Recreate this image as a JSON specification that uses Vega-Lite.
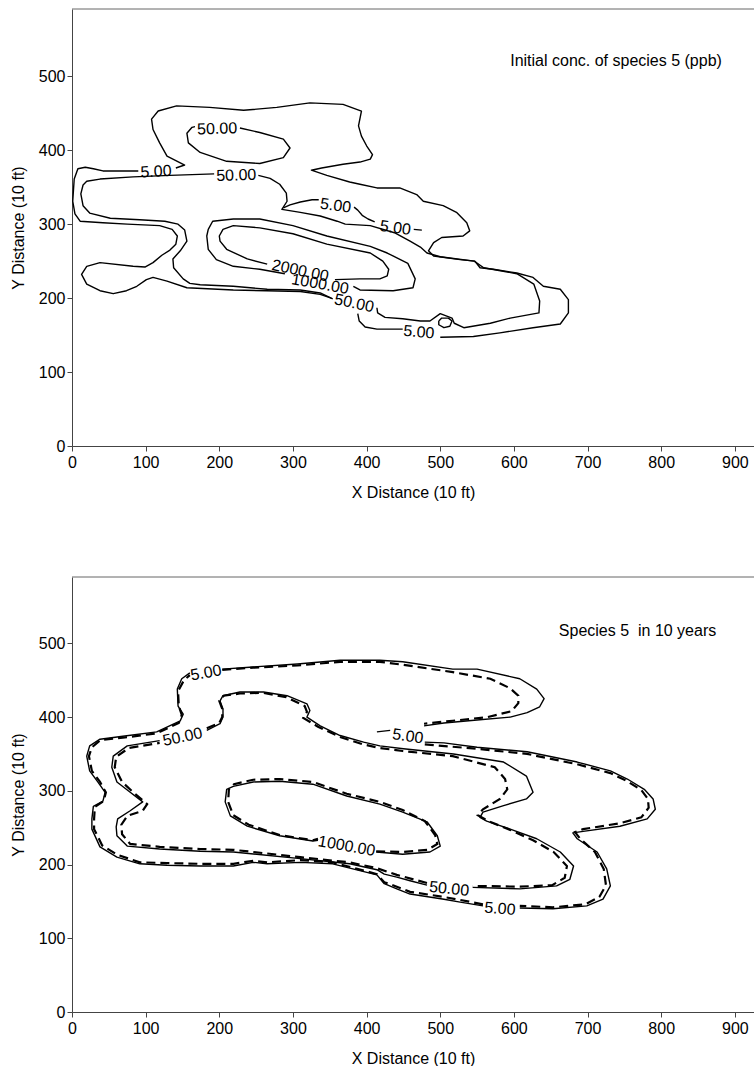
{
"$schema": "https://vega.github.io/schema/vega-lite/v6.json",
"background": "white",
"padding": {"left": 10, "top": 8, "right": 0, "bottom": 0},
"config": {
  "font": "Liberation Sans",
  "view": {"stroke": null},
  "concat": {"spacing": 76},
  "axis": {"labelFont": "Liberation Sans", "titleFont": "Liberation Sans", "labelFontSize": 16, "titleFontSize": 16, "titleFontWeight": "normal", "labelColor": "#000", "titleColor": "#000", "domainColor": "#444", "tickColor": "#444", "tickSize": 5, "grid": false, "labelFlush": false},
  "text": {"font": "Liberation Sans"}
},
"datasets": {
"lines": [
{"p":"t","s":"T5a","d":0,"i":0,"x":141,"y":376},{"p":"t","s":"T5a","d":0,"i":1,"x":153,"y":380},{"p":"t","s":"T5a","d":0,"i":2,"x":129,"y":392},{"p":"t","s":"T5a","d":0,"i":3,"x":119,"y":410},{"p":"t","s":"T5a","d":0,"i":4,"x":110,"y":428},{"p":"t","s":"T5a","d":0,"i":5,"x":108,"y":442},{"p":"t","s":"T5a","d":0,"i":6,"x":117,"y":453},{"p":"t","s":"T5a","d":0,"i":7,"x":142,"y":460},{"p":"t","s":"T5a","d":0,"i":8,"x":187,"y":458},{"p":"t","s":"T5a","d":0,"i":9,"x":233,"y":454},{"p":"t","s":"T5a","d":0,"i":10,"x":278,"y":458},{"p":"t","s":"T5a","d":0,"i":11,"x":323,"y":464},{"p":"t","s":"T5a","d":0,"i":12,"x":368,"y":462},{"p":"t","s":"T5a","d":0,"i":13,"x":393,"y":453},{"p":"t","s":"T5a","d":0,"i":14,"x":389,"y":433},{"p":"t","s":"T5a","d":0,"i":15,"x":393,"y":419},{"p":"t","s":"T5a","d":0,"i":16,"x":400,"y":406},{"p":"t","s":"T5a","d":0,"i":17,"x":408,"y":394},{"p":"t","s":"T5a","d":0,"i":18,"x":405,"y":388},{"p":"t","s":"T5a","d":0,"i":19,"x":391,"y":384},{"p":"t","s":"T5a","d":0,"i":20,"x":368,"y":381},{"p":"t","s":"T5a","d":0,"i":21,"x":339,"y":376},{"p":"t","s":"T5a","d":0,"i":22,"x":325,"y":373},{"p":"t","s":"T5a","d":0,"i":23,"x":346,"y":366},{"p":"t","s":"T5a","d":0,"i":24,"x":377,"y":357},{"p":"t","s":"T5a","d":0,"i":25,"x":391,"y":354},{"p":"t","s":"T5a","d":0,"i":26,"x":414,"y":349},{"p":"t","s":"T5a","d":0,"i":27,"x":445,"y":349},{"p":"t","s":"T5a","d":0,"i":28,"x":468,"y":340},{"p":"t","s":"T5a","d":0,"i":29,"x":477,"y":331},{"p":"t","s":"T5a","d":0,"i":30,"x":504,"y":325},{"p":"t","s":"T5a","d":0,"i":31,"x":522,"y":316},{"p":"t","s":"T5a","d":0,"i":32,"x":536,"y":302},{"p":"t","s":"T5a","d":0,"i":33,"x":540,"y":291},{"p":"t","s":"T5a","d":0,"i":34,"x":531,"y":284},{"p":"t","s":"T5a","d":0,"i":35,"x":502,"y":282},{"p":"t","s":"T5a","d":0,"i":36,"x":491,"y":275},{"p":"t","s":"T5a","d":0,"i":37,"x":484,"y":264},{"p":"t","s":"T5a","d":0,"i":38,"x":491,"y":257},{"p":"t","s":"T5a","d":0,"i":39,"x":527,"y":252},{"p":"t","s":"T5a","d":0,"i":40,"x":547,"y":250},{"p":"t","s":"T5a","d":0,"i":41,"x":554,"y":241},{"p":"t","s":"T5a","d":0,"i":42,"x":572,"y":239},{"p":"t","s":"T5a","d":0,"i":43,"x":604,"y":234},{"p":"t","s":"T5a","d":0,"i":44,"x":626,"y":228},{"p":"t","s":"T5a","d":0,"i":45,"x":640,"y":216},{"p":"t","s":"T5a","d":0,"i":46,"x":663,"y":212},{"p":"t","s":"T5a","d":0,"i":47,"x":674,"y":198},{"p":"t","s":"T5a","d":0,"i":48,"x":674,"y":180},{"p":"t","s":"T5a","d":0,"i":49,"x":663,"y":165},{"p":"t","s":"T5a","d":0,"i":50,"x":626,"y":160},{"p":"t","s":"T5a","d":0,"i":51,"x":581,"y":153},{"p":"t","s":"T5a","d":0,"i":52,"x":545,"y":148},{"p":"t","s":"T5a","d":0,"i":53,"x":500,"y":147},
{"p":"t","s":"T5b","d":0,"i":0,"x":449,"y":158},{"p":"t","s":"T5b","d":0,"i":1,"x":425,"y":158},{"p":"t","s":"T5b","d":0,"i":2,"x":414,"y":158},{"p":"t","s":"T5b","d":0,"i":3,"x":398,"y":161},{"p":"t","s":"T5b","d":0,"i":4,"x":390,"y":169},{"p":"t","s":"T5b","d":0,"i":5,"x":388,"y":179},
{"p":"t","s":"T5c","d":0,"i":0,"x":352,"y":200},{"p":"t","s":"T5c","d":0,"i":1,"x":337,"y":205},{"p":"t","s":"T5c","d":0,"i":2,"x":310,"y":209},{"p":"t","s":"T5c","d":0,"i":3,"x":264,"y":210},{"p":"t","s":"T5c","d":0,"i":4,"x":219,"y":211},{"p":"t","s":"T5c","d":0,"i":5,"x":156,"y":214},{"p":"t","s":"T5c","d":0,"i":6,"x":129,"y":223},{"p":"t","s":"T5c","d":0,"i":7,"x":110,"y":228},{"p":"t","s":"T5c","d":0,"i":8,"x":101,"y":225},{"p":"t","s":"T5c","d":0,"i":9,"x":88,"y":216},{"p":"t","s":"T5c","d":0,"i":10,"x":74,"y":210},{"p":"t","s":"T5c","d":0,"i":11,"x":56,"y":206},{"p":"t","s":"T5c","d":0,"i":12,"x":38,"y":210},{"p":"t","s":"T5c","d":0,"i":13,"x":20,"y":219},{"p":"t","s":"T5c","d":0,"i":14,"x":13,"y":232},{"p":"t","s":"T5c","d":0,"i":15,"x":20,"y":243},{"p":"t","s":"T5c","d":0,"i":16,"x":38,"y":248},{"p":"t","s":"T5c","d":0,"i":17,"x":83,"y":243},{"p":"t","s":"T5c","d":0,"i":18,"x":99,"y":242},{"p":"t","s":"T5c","d":0,"i":19,"x":110,"y":248},{"p":"t","s":"T5c","d":0,"i":20,"x":122,"y":258},{"p":"t","s":"T5c","d":0,"i":21,"x":133,"y":265},{"p":"t","s":"T5c","d":0,"i":22,"x":141,"y":273},{"p":"t","s":"T5c","d":0,"i":23,"x":143,"y":284},{"p":"t","s":"T5c","d":0,"i":24,"x":136,"y":293},{"p":"t","s":"T5c","d":0,"i":25,"x":119,"y":298},{"p":"t","s":"T5c","d":0,"i":26,"x":75,"y":300},{"p":"t","s":"T5c","d":0,"i":27,"x":42,"y":302},{"p":"t","s":"T5c","d":0,"i":28,"x":11,"y":304},{"p":"t","s":"T5c","d":0,"i":29,"x":4,"y":314},{"p":"t","s":"T5c","d":0,"i":30,"x":1,"y":331},{"p":"t","s":"T5c","d":0,"i":31,"x":3,"y":361},{"p":"t","s":"T5c","d":0,"i":32,"x":8,"y":375},{"p":"t","s":"T5c","d":0,"i":33,"x":18,"y":377},{"p":"t","s":"T5c","d":0,"i":34,"x":29,"y":375},{"p":"t","s":"T5c","d":0,"i":35,"x":42,"y":372},{"p":"t","s":"T5c","d":0,"i":36,"x":90,"y":372},
{"p":"t","s":"T50a","d":0,"i":0,"x":253,"y":366},{"p":"t","s":"T50a","d":0,"i":1,"x":269,"y":362},{"p":"t","s":"T50a","d":0,"i":2,"x":282,"y":354},{"p":"t","s":"T50a","d":0,"i":3,"x":291,"y":342},{"p":"t","s":"T50a","d":0,"i":4,"x":292,"y":331},{"p":"t","s":"T50a","d":0,"i":5,"x":285,"y":320},{"p":"t","s":"T50a","d":0,"i":6,"x":310,"y":316},{"p":"t","s":"T50a","d":0,"i":7,"x":337,"y":311},{"p":"t","s":"T50a","d":0,"i":8,"x":360,"y":304},{"p":"t","s":"T50a","d":0,"i":9,"x":371,"y":300},{"p":"t","s":"T50a","d":0,"i":10,"x":405,"y":298},{"p":"t","s":"T50a","d":0,"i":11,"x":439,"y":288},{"p":"t","s":"T50a","d":0,"i":12,"x":459,"y":277},{"p":"t","s":"T50a","d":0,"i":13,"x":473,"y":269},{"p":"t","s":"T50a","d":0,"i":14,"x":482,"y":261},{"p":"t","s":"T50a","d":0,"i":15,"x":500,"y":256},{"p":"t","s":"T50a","d":0,"i":16,"x":546,"y":250},{"p":"t","s":"T50a","d":0,"i":17,"x":559,"y":241},{"p":"t","s":"T50a","d":0,"i":18,"x":604,"y":233},{"p":"t","s":"T50a","d":0,"i":19,"x":627,"y":219},{"p":"t","s":"T50a","d":0,"i":20,"x":635,"y":196},{"p":"t","s":"T50a","d":0,"i":21,"x":634,"y":180},{"p":"t","s":"T50a","d":0,"i":22,"x":595,"y":173},{"p":"t","s":"T50a","d":0,"i":23,"x":568,"y":166},{"p":"t","s":"T50a","d":0,"i":24,"x":532,"y":160},{"p":"t","s":"T50a","d":0,"i":25,"x":519,"y":166},{"p":"t","s":"T50a","d":0,"i":26,"x":516,"y":173},{"p":"t","s":"T50a","d":0,"i":27,"x":500,"y":179},{"p":"t","s":"T50a","d":0,"i":28,"x":486,"y":169},{"p":"t","s":"T50a","d":0,"i":29,"x":473,"y":169},{"p":"t","s":"T50a","d":0,"i":30,"x":449,"y":172},{"p":"t","s":"T50a","d":0,"i":31,"x":425,"y":174},{"p":"t","s":"T50a","d":0,"i":32,"x":415,"y":180},{"p":"t","s":"T50a","d":0,"i":33,"x":414,"y":187},
{"p":"t","s":"T50b","d":0,"i":0,"x":354,"y":199},{"p":"t","s":"T50b","d":0,"i":1,"x":337,"y":207},{"p":"t","s":"T50b","d":0,"i":2,"x":310,"y":211},{"p":"t","s":"T50b","d":0,"i":3,"x":265,"y":212},{"p":"t","s":"T50b","d":0,"i":4,"x":219,"y":216},{"p":"t","s":"T50b","d":0,"i":5,"x":174,"y":218},{"p":"t","s":"T50b","d":0,"i":6,"x":160,"y":220},{"p":"t","s":"T50b","d":0,"i":7,"x":151,"y":226},{"p":"t","s":"T50b","d":0,"i":8,"x":138,"y":241},{"p":"t","s":"T50b","d":0,"i":9,"x":137,"y":253},{"p":"t","s":"T50b","d":0,"i":10,"x":147,"y":264},{"p":"t","s":"T50b","d":0,"i":11,"x":156,"y":277},{"p":"t","s":"T50b","d":0,"i":12,"x":153,"y":292},{"p":"t","s":"T50b","d":0,"i":13,"x":144,"y":300},{"p":"t","s":"T50b","d":0,"i":14,"x":126,"y":304},{"p":"t","s":"T50b","d":0,"i":15,"x":92,"y":306},{"p":"t","s":"T50b","d":0,"i":16,"x":52,"y":308},{"p":"t","s":"T50b","d":0,"i":17,"x":24,"y":315},{"p":"t","s":"T50b","d":0,"i":18,"x":15,"y":325},{"p":"t","s":"T50b","d":0,"i":19,"x":12,"y":341},{"p":"t","s":"T50b","d":0,"i":20,"x":15,"y":353},{"p":"t","s":"T50b","d":0,"i":21,"x":20,"y":358},{"p":"t","s":"T50b","d":0,"i":22,"x":38,"y":361},{"p":"t","s":"T50b","d":0,"i":23,"x":83,"y":364},{"p":"t","s":"T50b","d":0,"i":24,"x":133,"y":366},{"p":"t","s":"T50b","d":0,"i":25,"x":193,"y":368},
{"p":"t","s":"TU","d":0,"i":0,"x":228,"y":430},{"p":"t","s":"TU","d":0,"i":1,"x":255,"y":424},{"p":"t","s":"TU","d":0,"i":2,"x":287,"y":415},{"p":"t","s":"TU","d":0,"i":3,"x":296,"y":403},{"p":"t","s":"TU","d":0,"i":4,"x":287,"y":390},{"p":"t","s":"TU","d":0,"i":5,"x":255,"y":382},{"p":"t","s":"TU","d":0,"i":6,"x":210,"y":385},{"p":"t","s":"TU","d":0,"i":7,"x":174,"y":397},{"p":"t","s":"TU","d":0,"i":8,"x":158,"y":410},{"p":"t","s":"TU","d":0,"i":9,"x":156,"y":423},{"p":"t","s":"TU","d":0,"i":10,"x":163,"y":431},{"p":"t","s":"TU","d":0,"i":11,"x":167,"y":432},
{"p":"t","s":"TS1","d":0,"i":0,"x":287,"y":322},{"p":"t","s":"TS1","d":0,"i":1,"x":296,"y":326},{"p":"t","s":"TS1","d":0,"i":2,"x":310,"y":330},{"p":"t","s":"TS1","d":0,"i":3,"x":326,"y":333},{"p":"t","s":"TS1","d":0,"i":4,"x":335,"y":333},
{"p":"t","s":"TS2","d":0,"i":0,"x":383,"y":323},{"p":"t","s":"TS2","d":0,"i":1,"x":388,"y":319},{"p":"t","s":"TS2","d":0,"i":2,"x":394,"y":312},{"p":"t","s":"TS2","d":0,"i":3,"x":402,"y":307},{"p":"t","s":"TS2","d":0,"i":4,"x":411,"y":303},
{"p":"t","s":"TS3","d":0,"i":0,"x":464,"y":293},{"p":"t","s":"TS3","d":0,"i":1,"x":475,"y":292},
{"p":"t","s":"TO","d":0,"i":0,"x":498,"y":169},{"p":"t","s":"TO","d":0,"i":1,"x":502,"y":173},{"p":"t","s":"TO","d":0,"i":2,"x":511,"y":173},{"p":"t","s":"TO","d":0,"i":3,"x":516,"y":169},{"p":"t","s":"TO","d":0,"i":4,"x":513,"y":162},{"p":"t","s":"TO","d":0,"i":5,"x":505,"y":160},{"p":"t","s":"TO","d":0,"i":6,"x":498,"y":164},{"p":"t","s":"TO","d":0,"i":7,"x":498,"y":169},
{"p":"t","s":"T1k","d":0,"i":0,"x":382,"y":216},{"p":"t","s":"T1k","d":0,"i":1,"x":391,"y":211},{"p":"t","s":"T1k","d":0,"i":2,"x":436,"y":210},{"p":"t","s":"T1k","d":0,"i":3,"x":463,"y":214},{"p":"t","s":"T1k","d":0,"i":4,"x":466,"y":226},{"p":"t","s":"T1k","d":0,"i":5,"x":456,"y":247},{"p":"t","s":"T1k","d":0,"i":6,"x":428,"y":261},{"p":"t","s":"T1k","d":0,"i":7,"x":405,"y":270},{"p":"t","s":"T1k","d":0,"i":8,"x":346,"y":284},{"p":"t","s":"T1k","d":0,"i":9,"x":300,"y":298},{"p":"t","s":"T1k","d":0,"i":10,"x":255,"y":307},{"p":"t","s":"T1k","d":0,"i":11,"x":219,"y":307},{"p":"t","s":"T1k","d":0,"i":12,"x":191,"y":304},{"p":"t","s":"T1k","d":0,"i":13,"x":185,"y":293},{"p":"t","s":"T1k","d":0,"i":14,"x":183,"y":284},{"p":"t","s":"T1k","d":0,"i":15,"x":185,"y":266},{"p":"t","s":"T1k","d":0,"i":16,"x":196,"y":252},{"p":"t","s":"T1k","d":0,"i":17,"x":219,"y":243},{"p":"t","s":"T1k","d":0,"i":18,"x":255,"y":239},{"p":"t","s":"T1k","d":0,"i":19,"x":289,"y":233},
{"p":"t","s":"T2k","d":0,"i":0,"x":357,"y":225},{"p":"t","s":"T2k","d":0,"i":1,"x":391,"y":226},{"p":"t","s":"T2k","d":0,"i":2,"x":418,"y":226},{"p":"t","s":"T2k","d":0,"i":3,"x":428,"y":230},{"p":"t","s":"T2k","d":0,"i":4,"x":430,"y":239},{"p":"t","s":"T2k","d":0,"i":5,"x":422,"y":250},{"p":"t","s":"T2k","d":0,"i":6,"x":405,"y":261},{"p":"t","s":"T2k","d":0,"i":7,"x":346,"y":273},{"p":"t","s":"T2k","d":0,"i":8,"x":300,"y":287},{"p":"t","s":"T2k","d":0,"i":9,"x":255,"y":295},{"p":"t","s":"T2k","d":0,"i":10,"x":219,"y":298},{"p":"t","s":"T2k","d":0,"i":11,"x":205,"y":293},{"p":"t","s":"T2k","d":0,"i":12,"x":200,"y":284},{"p":"t","s":"T2k","d":0,"i":13,"x":201,"y":277},{"p":"t","s":"T2k","d":0,"i":14,"x":210,"y":266},{"p":"t","s":"T2k","d":0,"i":15,"x":238,"y":253},{"p":"t","s":"T2k","d":0,"i":16,"x":265,"y":246},
{"p":"b","s":"B5a","d":0,"i":0,"x":204,"y":465},{"p":"b","s":"B5a","d":0,"i":1,"x":246,"y":468},{"p":"b","s":"B5a","d":0,"i":2,"x":306,"y":472},{"p":"b","s":"B5a","d":0,"i":3,"x":364,"y":477},{"p":"b","s":"B5a","d":0,"i":4,"x":418,"y":477},{"p":"b","s":"B5a","d":0,"i":5,"x":449,"y":475},{"p":"b","s":"B5a","d":0,"i":6,"x":517,"y":465},{"p":"b","s":"B5a","d":0,"i":7,"x":550,"y":465},{"p":"b","s":"B5a","d":0,"i":8,"x":608,"y":452},{"p":"b","s":"B5a","d":0,"i":9,"x":631,"y":438},{"p":"b","s":"B5a","d":0,"i":10,"x":641,"y":425},{"p":"b","s":"B5a","d":0,"i":11,"x":635,"y":414},{"p":"b","s":"B5a","d":0,"i":12,"x":618,"y":406},{"p":"b","s":"B5a","d":0,"i":13,"x":595,"y":400},{"p":"b","s":"B5a","d":0,"i":14,"x":550,"y":396},{"p":"b","s":"B5a","d":0,"i":15,"x":505,"y":392},{"p":"b","s":"B5a","d":0,"i":16,"x":478,"y":388},
{"p":"b","s":"B5b","d":0,"i":0,"x":432,"y":382},{"p":"b","s":"B5b","d":0,"i":1,"x":414,"y":380},
{"p":"b","s":"B5c","d":0,"i":0,"x":479,"y":366},{"p":"b","s":"B5c","d":0,"i":1,"x":505,"y":365},{"p":"b","s":"B5c","d":0,"i":2,"x":550,"y":359},{"p":"b","s":"B5c","d":0,"i":3,"x":618,"y":353},{"p":"b","s":"B5c","d":0,"i":4,"x":686,"y":339},{"p":"b","s":"B5c","d":0,"i":5,"x":731,"y":327},{"p":"b","s":"B5c","d":0,"i":6,"x":754,"y":316},{"p":"b","s":"B5c","d":0,"i":7,"x":777,"y":302},{"p":"b","s":"B5c","d":0,"i":8,"x":789,"y":289},{"p":"b","s":"B5c","d":0,"i":9,"x":792,"y":275},{"p":"b","s":"B5c","d":0,"i":10,"x":781,"y":262},{"p":"b","s":"B5c","d":0,"i":11,"x":744,"y":252},{"p":"b","s":"B5c","d":0,"i":12,"x":694,"y":245},{"p":"b","s":"B5c","d":0,"i":13,"x":680,"y":243},{"p":"b","s":"B5c","d":0,"i":14,"x":686,"y":235},{"p":"b","s":"B5c","d":0,"i":15,"x":713,"y":217},{"p":"b","s":"B5c","d":0,"i":16,"x":726,"y":194},{"p":"b","s":"B5c","d":0,"i":17,"x":731,"y":171},{"p":"b","s":"B5c","d":0,"i":18,"x":721,"y":153},{"p":"b","s":"B5c","d":0,"i":19,"x":699,"y":144},{"p":"b","s":"B5c","d":0,"i":20,"x":653,"y":140},{"p":"b","s":"B5c","d":0,"i":21,"x":608,"y":141},
{"p":"b","s":"B5d","d":0,"i":0,"x":558,"y":144},{"p":"b","s":"B5d","d":0,"i":1,"x":527,"y":149},{"p":"b","s":"B5d","d":0,"i":2,"x":505,"y":153},{"p":"b","s":"B5d","d":0,"i":3,"x":459,"y":160},{"p":"b","s":"B5d","d":0,"i":4,"x":441,"y":167},{"p":"b","s":"B5d","d":0,"i":5,"x":424,"y":174},{"p":"b","s":"B5d","d":0,"i":6,"x":414,"y":186},{"p":"b","s":"B5d","d":0,"i":7,"x":354,"y":201},{"p":"b","s":"B5d","d":0,"i":8,"x":310,"y":203},{"p":"b","s":"B5d","d":0,"i":9,"x":265,"y":201},{"p":"b","s":"B5d","d":0,"i":10,"x":246,"y":203},{"p":"b","s":"B5d","d":0,"i":11,"x":219,"y":198},{"p":"b","s":"B5d","d":0,"i":12,"x":174,"y":198},{"p":"b","s":"B5d","d":0,"i":13,"x":129,"y":199},{"p":"b","s":"B5d","d":0,"i":14,"x":92,"y":201},{"p":"b","s":"B5d","d":0,"i":15,"x":61,"y":210},{"p":"b","s":"B5d","d":0,"i":16,"x":38,"y":224},{"p":"b","s":"B5d","d":0,"i":17,"x":27,"y":248},{"p":"b","s":"B5d","d":0,"i":18,"x":27,"y":262},{"p":"b","s":"B5d","d":0,"i":19,"x":29,"y":279},{"p":"b","s":"B5d","d":0,"i":20,"x":42,"y":286},{"p":"b","s":"B5d","d":0,"i":21,"x":45,"y":298},{"p":"b","s":"B5d","d":0,"i":22,"x":35,"y":312},{"p":"b","s":"B5d","d":0,"i":23,"x":24,"y":327},{"p":"b","s":"B5d","d":0,"i":24,"x":20,"y":347},{"p":"b","s":"B5d","d":0,"i":25,"x":24,"y":361},{"p":"b","s":"B5d","d":0,"i":26,"x":38,"y":370},{"p":"b","s":"B5d","d":0,"i":27,"x":69,"y":374},{"p":"b","s":"B5d","d":0,"i":28,"x":115,"y":380},{"p":"b","s":"B5d","d":0,"i":29,"x":147,"y":395},{"p":"b","s":"B5d","d":0,"i":30,"x":151,"y":404},{"p":"b","s":"B5d","d":0,"i":31,"x":144,"y":415},{"p":"b","s":"B5d","d":0,"i":32,"x":143,"y":438},{"p":"b","s":"B5d","d":0,"i":33,"x":149,"y":452},{"p":"b","s":"B5d","d":0,"i":34,"x":160,"y":460},
{"p":"b","s":"B50a","d":0,"i":0,"x":183,"y":382},{"p":"b","s":"B50a","d":0,"i":1,"x":201,"y":391},{"p":"b","s":"B50a","d":0,"i":2,"x":205,"y":400},{"p":"b","s":"B50a","d":0,"i":3,"x":205,"y":411},{"p":"b","s":"B50a","d":0,"i":4,"x":201,"y":422},{"p":"b","s":"B50a","d":0,"i":5,"x":205,"y":429},{"p":"b","s":"B50a","d":0,"i":6,"x":228,"y":434},{"p":"b","s":"B50a","d":0,"i":7,"x":260,"y":434},{"p":"b","s":"B50a","d":0,"i":8,"x":292,"y":429},{"p":"b","s":"B50a","d":0,"i":9,"x":319,"y":418},{"p":"b","s":"B50a","d":0,"i":10,"x":323,"y":409},{"p":"b","s":"B50a","d":0,"i":11,"x":319,"y":400},{"p":"b","s":"B50a","d":0,"i":12,"x":337,"y":388},{"p":"b","s":"B50a","d":0,"i":13,"x":364,"y":375},{"p":"b","s":"B50a","d":0,"i":14,"x":396,"y":366},{"p":"b","s":"B50a","d":0,"i":15,"x":418,"y":361},{"p":"b","s":"B50a","d":0,"i":16,"x":450,"y":357},{"p":"b","s":"B50a","d":0,"i":17,"x":518,"y":350},{"p":"b","s":"B50a","d":0,"i":18,"x":586,"y":339},{"p":"b","s":"B50a","d":0,"i":19,"x":617,"y":320},{"p":"b","s":"B50a","d":0,"i":20,"x":626,"y":298},{"p":"b","s":"B50a","d":0,"i":21,"x":617,"y":289},{"p":"b","s":"B50a","d":0,"i":22,"x":586,"y":280},{"p":"b","s":"B50a","d":0,"i":23,"x":558,"y":271},{"p":"b","s":"B50a","d":0,"i":24,"x":554,"y":264},{"p":"b","s":"B50a","d":0,"i":25,"x":563,"y":259},{"p":"b","s":"B50a","d":0,"i":26,"x":595,"y":248},{"p":"b","s":"B50a","d":0,"i":27,"x":631,"y":235},{"p":"b","s":"B50a","d":0,"i":28,"x":663,"y":217},{"p":"b","s":"B50a","d":0,"i":29,"x":681,"y":198},{"p":"b","s":"B50a","d":0,"i":30,"x":676,"y":180},{"p":"b","s":"B50a","d":0,"i":31,"x":658,"y":171},{"p":"b","s":"B50a","d":0,"i":32,"x":608,"y":167},{"p":"b","s":"B50a","d":0,"i":33,"x":544,"y":169},
{"p":"b","s":"B50b","d":0,"i":0,"x":482,"y":172},{"p":"b","s":"B50b","d":0,"i":1,"x":459,"y":178},{"p":"b","s":"B50b","d":0,"i":2,"x":441,"y":183},{"p":"b","s":"B50b","d":0,"i":3,"x":424,"y":187},{"p":"b","s":"B50b","d":0,"i":4,"x":414,"y":193},{"p":"b","s":"B50b","d":0,"i":5,"x":377,"y":201},{"p":"b","s":"B50b","d":0,"i":6,"x":310,"y":208},{"p":"b","s":"B50b","d":0,"i":7,"x":219,"y":217},{"p":"b","s":"B50b","d":0,"i":8,"x":174,"y":218},{"p":"b","s":"B50b","d":0,"i":9,"x":119,"y":221},{"p":"b","s":"B50b","d":0,"i":10,"x":75,"y":225},{"p":"b","s":"B50b","d":0,"i":11,"x":61,"y":239},{"p":"b","s":"B50b","d":0,"i":12,"x":60,"y":251},{"p":"b","s":"B50b","d":0,"i":13,"x":62,"y":262},{"p":"b","s":"B50b","d":0,"i":14,"x":79,"y":273},{"p":"b","s":"B50b","d":0,"i":15,"x":96,"y":285},{"p":"b","s":"B50b","d":0,"i":16,"x":79,"y":298},{"p":"b","s":"B50b","d":0,"i":17,"x":61,"y":312},{"p":"b","s":"B50b","d":0,"i":18,"x":54,"y":332},{"p":"b","s":"B50b","d":0,"i":19,"x":56,"y":347},{"p":"b","s":"B50b","d":0,"i":20,"x":75,"y":361},{"p":"b","s":"B50b","d":0,"i":21,"x":119,"y":368},
{"p":"b","s":"B1k","d":0,"i":0,"x":413,"y":217},{"p":"b","s":"B1k","d":0,"i":1,"x":449,"y":214},{"p":"b","s":"B1k","d":0,"i":2,"x":486,"y":217},{"p":"b","s":"B1k","d":0,"i":3,"x":500,"y":225},{"p":"b","s":"B1k","d":0,"i":4,"x":496,"y":239},{"p":"b","s":"B1k","d":0,"i":5,"x":482,"y":258},{"p":"b","s":"B1k","d":0,"i":6,"x":449,"y":271},{"p":"b","s":"B1k","d":0,"i":7,"x":418,"y":282},{"p":"b","s":"B1k","d":0,"i":8,"x":373,"y":293},{"p":"b","s":"B1k","d":0,"i":9,"x":327,"y":309},{"p":"b","s":"B1k","d":0,"i":10,"x":282,"y":313},{"p":"b","s":"B1k","d":0,"i":11,"x":246,"y":312},{"p":"b","s":"B1k","d":0,"i":12,"x":219,"y":306},{"p":"b","s":"B1k","d":0,"i":13,"x":210,"y":302},{"p":"b","s":"B1k","d":0,"i":14,"x":208,"y":285},{"p":"b","s":"B1k","d":0,"i":15,"x":215,"y":266},{"p":"b","s":"B1k","d":0,"i":16,"x":238,"y":252},{"p":"b","s":"B1k","d":0,"i":17,"x":282,"y":239},{"p":"b","s":"B1k","d":0,"i":18,"x":327,"y":232},{"p":"b","s":"B1k","d":0,"i":19,"x":334,"y":233},
{"p":"b","s":"D5a","d":1,"i":0,"x":204,"y":464},{"p":"b","s":"D5a","d":1,"i":1,"x":246,"y":467},{"p":"b","s":"D5a","d":1,"i":2,"x":306,"y":470},{"p":"b","s":"D5a","d":1,"i":3,"x":364,"y":475},{"p":"b","s":"D5a","d":1,"i":4,"x":418,"y":475},{"p":"b","s":"D5a","d":1,"i":5,"x":449,"y":471},{"p":"b","s":"D5a","d":1,"i":6,"x":517,"y":461},{"p":"b","s":"D5a","d":1,"i":7,"x":568,"y":452},{"p":"b","s":"D5a","d":1,"i":8,"x":595,"y":439},{"p":"b","s":"D5a","d":1,"i":9,"x":606,"y":429},{"p":"b","s":"D5a","d":1,"i":10,"x":606,"y":419},{"p":"b","s":"D5a","d":1,"i":11,"x":597,"y":408},{"p":"b","s":"D5a","d":1,"i":12,"x":564,"y":400},{"p":"b","s":"D5a","d":1,"i":13,"x":517,"y":395},{"p":"b","s":"D5a","d":1,"i":14,"x":478,"y":391},
{"p":"b","s":"D5c","d":1,"i":0,"x":479,"y":363},{"p":"b","s":"D5c","d":1,"i":1,"x":550,"y":357},{"p":"b","s":"D5c","d":1,"i":2,"x":618,"y":350},{"p":"b","s":"D5c","d":1,"i":3,"x":686,"y":336},{"p":"b","s":"D5c","d":1,"i":4,"x":731,"y":324},{"p":"b","s":"D5c","d":1,"i":5,"x":754,"y":313},{"p":"b","s":"D5c","d":1,"i":6,"x":773,"y":301},{"p":"b","s":"D5c","d":1,"i":7,"x":782,"y":289},{"p":"b","s":"D5c","d":1,"i":8,"x":783,"y":277},{"p":"b","s":"D5c","d":1,"i":9,"x":773,"y":264},{"p":"b","s":"D5c","d":1,"i":10,"x":744,"y":256},{"p":"b","s":"D5c","d":1,"i":11,"x":694,"y":248},{"p":"b","s":"D5c","d":1,"i":12,"x":683,"y":244},{"p":"b","s":"D5c","d":1,"i":13,"x":690,"y":235},{"p":"b","s":"D5c","d":1,"i":14,"x":710,"y":217},{"p":"b","s":"D5c","d":1,"i":15,"x":722,"y":194},{"p":"b","s":"D5c","d":1,"i":16,"x":725,"y":172},{"p":"b","s":"D5c","d":1,"i":17,"x":716,"y":156},{"p":"b","s":"D5c","d":1,"i":18,"x":697,"y":146},{"p":"b","s":"D5c","d":1,"i":19,"x":653,"y":142},{"p":"b","s":"D5c","d":1,"i":20,"x":608,"y":144},
{"p":"b","s":"D5d","d":1,"i":0,"x":558,"y":146},{"p":"b","s":"D5d","d":1,"i":1,"x":527,"y":152},{"p":"b","s":"D5d","d":1,"i":2,"x":505,"y":156},{"p":"b","s":"D5d","d":1,"i":3,"x":459,"y":163},{"p":"b","s":"D5d","d":1,"i":4,"x":441,"y":170},{"p":"b","s":"D5d","d":1,"i":5,"x":424,"y":176},{"p":"b","s":"D5d","d":1,"i":6,"x":414,"y":187},{"p":"b","s":"D5d","d":1,"i":7,"x":354,"y":203},{"p":"b","s":"D5d","d":1,"i":8,"x":310,"y":206},{"p":"b","s":"D5d","d":1,"i":9,"x":265,"y":203},{"p":"b","s":"D5d","d":1,"i":10,"x":246,"y":205},{"p":"b","s":"D5d","d":1,"i":11,"x":219,"y":201},{"p":"b","s":"D5d","d":1,"i":12,"x":174,"y":201},{"p":"b","s":"D5d","d":1,"i":13,"x":129,"y":202},{"p":"b","s":"D5d","d":1,"i":14,"x":92,"y":203},{"p":"b","s":"D5d","d":1,"i":15,"x":62,"y":213},{"p":"b","s":"D5d","d":1,"i":16,"x":41,"y":226},{"p":"b","s":"D5d","d":1,"i":17,"x":30,"y":248},{"p":"b","s":"D5d","d":1,"i":18,"x":30,"y":262},{"p":"b","s":"D5d","d":1,"i":19,"x":31,"y":278},{"p":"b","s":"D5d","d":1,"i":20,"x":43,"y":286},{"p":"b","s":"D5d","d":1,"i":21,"x":46,"y":298},{"p":"b","s":"D5d","d":1,"i":22,"x":38,"y":312},{"p":"b","s":"D5d","d":1,"i":23,"x":27,"y":327},{"p":"b","s":"D5d","d":1,"i":24,"x":23,"y":347},{"p":"b","s":"D5d","d":1,"i":25,"x":27,"y":359},{"p":"b","s":"D5d","d":1,"i":26,"x":39,"y":369},{"p":"b","s":"D5d","d":1,"i":27,"x":69,"y":372},{"p":"b","s":"D5d","d":1,"i":28,"x":115,"y":378},{"p":"b","s":"D5d","d":1,"i":29,"x":145,"y":392},{"p":"b","s":"D5d","d":1,"i":30,"x":149,"y":403},{"p":"b","s":"D5d","d":1,"i":31,"x":145,"y":415},{"p":"b","s":"D5d","d":1,"i":32,"x":144,"y":435},{"p":"b","s":"D5d","d":1,"i":33,"x":152,"y":450},{"p":"b","s":"D5d","d":1,"i":34,"x":160,"y":457},
{"p":"b","s":"D50a","d":1,"i":0,"x":183,"y":385},{"p":"b","s":"D50a","d":1,"i":1,"x":200,"y":392},{"p":"b","s":"D50a","d":1,"i":2,"x":204,"y":400},{"p":"b","s":"D50a","d":1,"i":3,"x":204,"y":411},{"p":"b","s":"D50a","d":1,"i":4,"x":200,"y":422},{"p":"b","s":"D50a","d":1,"i":5,"x":206,"y":429},{"p":"b","s":"D50a","d":1,"i":6,"x":228,"y":432},{"p":"b","s":"D50a","d":1,"i":7,"x":259,"y":433},{"p":"b","s":"D50a","d":1,"i":8,"x":291,"y":427},{"p":"b","s":"D50a","d":1,"i":9,"x":316,"y":415},{"p":"b","s":"D50a","d":1,"i":10,"x":319,"y":407},{"p":"b","s":"D50a","d":1,"i":11,"x":314,"y":399},{"p":"b","s":"D50a","d":1,"i":12,"x":334,"y":387},{"p":"b","s":"D50a","d":1,"i":13,"x":364,"y":373},{"p":"b","s":"D50a","d":1,"i":14,"x":395,"y":363},{"p":"b","s":"D50a","d":1,"i":15,"x":418,"y":358},{"p":"b","s":"D50a","d":1,"i":16,"x":449,"y":354},{"p":"b","s":"D50a","d":1,"i":17,"x":517,"y":347},{"p":"b","s":"D50a","d":1,"i":18,"x":574,"y":332},{"p":"b","s":"D50a","d":1,"i":19,"x":588,"y":316},{"p":"b","s":"D50a","d":1,"i":20,"x":591,"y":302},{"p":"b","s":"D50a","d":1,"i":21,"x":581,"y":289},{"p":"b","s":"D50a","d":1,"i":22,"x":558,"y":275},{"p":"b","s":"D50a","d":1,"i":23,"x":551,"y":267},{"p":"b","s":"D50a","d":1,"i":24,"x":565,"y":259},{"p":"b","s":"D50a","d":1,"i":25,"x":595,"y":247},{"p":"b","s":"D50a","d":1,"i":26,"x":626,"y":233},{"p":"b","s":"D50a","d":1,"i":27,"x":654,"y":217},{"p":"b","s":"D50a","d":1,"i":28,"x":672,"y":198},{"p":"b","s":"D50a","d":1,"i":29,"x":669,"y":182},{"p":"b","s":"D50a","d":1,"i":30,"x":652,"y":172},{"p":"b","s":"D50a","d":1,"i":31,"x":608,"y":170},{"p":"b","s":"D50a","d":1,"i":32,"x":544,"y":171},
{"p":"b","s":"D50b","d":1,"i":0,"x":482,"y":175},{"p":"b","s":"D50b","d":1,"i":1,"x":441,"y":186},{"p":"b","s":"D50b","d":1,"i":2,"x":414,"y":195},{"p":"b","s":"D50b","d":1,"i":3,"x":377,"y":203},{"p":"b","s":"D50b","d":1,"i":4,"x":310,"y":210},{"p":"b","s":"D50b","d":1,"i":5,"x":219,"y":220},{"p":"b","s":"D50b","d":1,"i":6,"x":174,"y":221},{"p":"b","s":"D50b","d":1,"i":7,"x":119,"y":224},{"p":"b","s":"D50b","d":1,"i":8,"x":79,"y":228},{"p":"b","s":"D50b","d":1,"i":9,"x":68,"y":241},{"p":"b","s":"D50b","d":1,"i":10,"x":67,"y":254},{"p":"b","s":"D50b","d":1,"i":11,"x":75,"y":266},{"p":"b","s":"D50b","d":1,"i":12,"x":96,"y":273},{"p":"b","s":"D50b","d":1,"i":13,"x":102,"y":282},{"p":"b","s":"D50b","d":1,"i":14,"x":83,"y":298},{"p":"b","s":"D50b","d":1,"i":15,"x":68,"y":312},{"p":"b","s":"D50b","d":1,"i":16,"x":58,"y":332},{"p":"b","s":"D50b","d":1,"i":17,"x":60,"y":346},{"p":"b","s":"D50b","d":1,"i":18,"x":77,"y":358},{"p":"b","s":"D50b","d":1,"i":19,"x":119,"y":365},
{"p":"b","s":"D1k","d":1,"i":0,"x":413,"y":218},{"p":"b","s":"D1k","d":1,"i":1,"x":449,"y":217},{"p":"b","s":"D1k","d":1,"i":2,"x":483,"y":220},{"p":"b","s":"D1k","d":1,"i":3,"x":496,"y":228},{"p":"b","s":"D1k","d":1,"i":4,"x":493,"y":240},{"p":"b","s":"D1k","d":1,"i":5,"x":479,"y":259},{"p":"b","s":"D1k","d":1,"i":6,"x":449,"y":274},{"p":"b","s":"D1k","d":1,"i":7,"x":418,"y":285},{"p":"b","s":"D1k","d":1,"i":8,"x":373,"y":296},{"p":"b","s":"D1k","d":1,"i":9,"x":327,"y":312},{"p":"b","s":"D1k","d":1,"i":10,"x":282,"y":316},{"p":"b","s":"D1k","d":1,"i":11,"x":246,"y":315},{"p":"b","s":"D1k","d":1,"i":12,"x":220,"y":309},{"p":"b","s":"D1k","d":1,"i":13,"x":213,"y":302},{"p":"b","s":"D1k","d":1,"i":14,"x":212,"y":285},{"p":"b","s":"D1k","d":1,"i":15,"x":219,"y":267},{"p":"b","s":"D1k","d":1,"i":16,"x":240,"y":254},{"p":"b","s":"D1k","d":1,"i":17,"x":282,"y":240},{"p":"b","s":"D1k","d":1,"i":18,"x":327,"y":233},{"p":"b","s":"D1k","d":1,"i":19,"x":334,"y":235}
],
"labels": [
{"p":"t","x":197,"y":429,"t":"50.00","a":-2},
{"p":"t","x":114,"y":371,"t":"5.00","a":-3},
{"p":"t","x":223,"y":366,"t":"50.00","a":-2},
{"p":"t","x":358,"y":325,"t":"5.00","a":8},
{"p":"t","x":439,"y":295,"t":"5.00","a":8},
{"p":"t","x":310,"y":237,"t":"2000.00","a":12},
{"p":"t","x":337,"y":219,"t":"1000.00","a":10},
{"p":"t","x":383,"y":193,"t":"50.00","a":12},
{"p":"t","x":471,"y":154,"t":"5.00","a":5},
{"p":"b","x":182,"y":460,"t":"5.00","a":-10},
{"p":"b","x":150,"y":373,"t":"50.00","a":-12},
{"p":"b","x":456,"y":374,"t":"5.00","a":8},
{"p":"b","x":373,"y":225,"t":"1000.00","a":10},
{"p":"b","x":512,"y":167,"t":"50.00","a":6},
{"p":"b","x":581,"y":140,"t":"5.00","a":5}
],
"notes": [
{"p":"t","x":595,"y":521,"t":"Initial conc. of species 5 (ppb)"},
{"p":"b","x":661,"y":517,"t":"Species 5\u00a0 in 10 years"}
]
},
"vconcat": [
{
 "width": 682, "height": 437,
 "layer": [
  {"data": {"name": "lines"}, "transform": [{"filter": "datum.p == 't'"}],
   "mark": {"type": "line", "color": "#000", "strokeWidth": 1.4, "strokeJoin": "round"},
   "encoding": {
    "x": {"field": "x", "type": "quantitative", "scale": {"domain": [0, 926], "nice": false, "zero": false}, "axis": {"title": "X Distance (10 ft)", "values": [0,100,200,300,400,500,600,700,800,900], "labelPadding": 3, "titlePadding": 14}},
    "y": {"field": "y", "type": "quantitative", "scale": {"domain": [0, 591], "nice": false, "zero": false}, "axis": {"title": "Y Distance (10 ft)", "values": [0,100,200,300,400,500], "labelPadding": 2, "titlePadding": 12}},
    "detail": {"field": "s"},
    "order": {"field": "i"}
   }},
  {"data": {"name": "labels"}, "transform": [{"filter": "datum.p == 't'"}],
   "mark": {"type": "text", "fontSize": 16, "color": "#000", "align": "center", "baseline": "middle"},
   "encoding": {
    "x": {"field": "x", "type": "quantitative", "scale": {"domain": [0, 926], "nice": false, "zero": false}, "axis": {"title": "X Distance (10 ft)", "values": [0,100,200,300,400,500,600,700,800,900], "labelPadding": 3, "titlePadding": 14}},
    "y": {"field": "y", "type": "quantitative", "scale": {"domain": [0, 591], "nice": false, "zero": false}, "axis": {"title": "Y Distance (10 ft)", "values": [0,100,200,300,400,500], "labelPadding": 2, "titlePadding": 12}},
    "text": {"field": "t"},
    "angle": {"field": "a", "type": "quantitative", "scale": null}
   }},
  {"data": {"name": "notes"}, "transform": [{"filter": "datum.p == 't'"}],
   "mark": {"type": "text", "fontSize": 16, "color": "#000", "align": "left", "baseline": "middle"},
   "encoding": {
    "x": {"field": "x", "type": "quantitative", "scale": {"domain": [0, 926], "nice": false, "zero": false}, "axis": {"title": "X Distance (10 ft)", "values": [0,100,200,300,400,500,600,700,800,900], "labelPadding": 3, "titlePadding": 14}},
    "y": {"field": "y", "type": "quantitative", "scale": {"domain": [0, 591], "nice": false, "zero": false}, "axis": {"title": "Y Distance (10 ft)", "values": [0,100,200,300,400,500], "labelPadding": 2, "titlePadding": 12}},
    "text": {"field": "t"}
   }},
  {"data": {"values": [{}]},
   "mark": {"type": "rule", "color": "#666", "strokeWidth": 1},
   "encoding": {"y": {"datum": 591, "type": "quantitative", "scale": {"domain": [0, 591], "nice": false, "zero": false}, "axis": {"title": "Y Distance (10 ft)", "values": [0,100,200,300,400,500], "labelPadding": 2, "titlePadding": 12}}}}
 ]
},
{
 "width": 682, "height": 435,
 "layer": [
  {"data": {"name": "lines"}, "transform": [{"filter": "datum.p == 'b' && datum.d == 0"}],
   "mark": {"type": "line", "color": "#000", "strokeWidth": 1.4, "strokeJoin": "round"},
   "encoding": {
    "x": {"field": "x", "type": "quantitative", "scale": {"domain": [0, 926], "nice": false, "zero": false}, "axis": {"title": "X Distance (10 ft)", "values": [0,100,200,300,400,500,600,700,800,900], "labelPadding": 3, "titlePadding": 14}},
    "y": {"field": "y", "type": "quantitative", "scale": {"domain": [0, 590], "nice": false, "zero": false}, "axis": {"title": "Y Distance (10 ft)", "values": [0,100,200,300,400,500], "labelPadding": 2, "titlePadding": 12}},
    "detail": {"field": "s"},
    "order": {"field": "i"}
   }},
  {"data": {"name": "lines"}, "transform": [{"filter": "datum.p == 'b' && datum.d == 1"}],
   "mark": {"type": "line", "color": "#000", "strokeWidth": 2.2, "strokeDash": [9, 5]},
   "encoding": {
    "x": {"field": "x", "type": "quantitative", "scale": {"domain": [0, 926], "nice": false, "zero": false}, "axis": {"title": "X Distance (10 ft)", "values": [0,100,200,300,400,500,600,700,800,900], "labelPadding": 3, "titlePadding": 14}},
    "y": {"field": "y", "type": "quantitative", "scale": {"domain": [0, 590], "nice": false, "zero": false}, "axis": {"title": "Y Distance (10 ft)", "values": [0,100,200,300,400,500], "labelPadding": 2, "titlePadding": 12}},
    "detail": {"field": "s"},
    "order": {"field": "i"}
   }},
  {"data": {"name": "labels"}, "transform": [{"filter": "datum.p == 'b'"}],
   "mark": {"type": "text", "fontSize": 16, "color": "#000", "align": "center", "baseline": "middle"},
   "encoding": {
    "x": {"field": "x", "type": "quantitative", "scale": {"domain": [0, 926], "nice": false, "zero": false}, "axis": {"title": "X Distance (10 ft)", "values": [0,100,200,300,400,500,600,700,800,900], "labelPadding": 3, "titlePadding": 14}},
    "y": {"field": "y", "type": "quantitative", "scale": {"domain": [0, 590], "nice": false, "zero": false}, "axis": {"title": "Y Distance (10 ft)", "values": [0,100,200,300,400,500], "labelPadding": 2, "titlePadding": 12}},
    "text": {"field": "t"},
    "angle": {"field": "a", "type": "quantitative", "scale": null}
   }},
  {"data": {"name": "notes"}, "transform": [{"filter": "datum.p == 'b'"}],
   "mark": {"type": "text", "fontSize": 16, "color": "#000", "align": "left", "baseline": "middle"},
   "encoding": {
    "x": {"field": "x", "type": "quantitative", "scale": {"domain": [0, 926], "nice": false, "zero": false}, "axis": {"title": "X Distance (10 ft)", "values": [0,100,200,300,400,500,600,700,800,900], "labelPadding": 3, "titlePadding": 14}},
    "y": {"field": "y", "type": "quantitative", "scale": {"domain": [0, 590], "nice": false, "zero": false}, "axis": {"title": "Y Distance (10 ft)", "values": [0,100,200,300,400,500], "labelPadding": 2, "titlePadding": 12}},
    "text": {"field": "t"}
   }},
  {"data": {"values": [{}]},
   "mark": {"type": "rule", "color": "#666", "strokeWidth": 1},
   "encoding": {"y": {"datum": 590, "type": "quantitative", "scale": {"domain": [0, 590], "nice": false, "zero": false}, "axis": {"title": "Y Distance (10 ft)", "values": [0,100,200,300,400,500], "labelPadding": 2, "titlePadding": 12}}}}
 ]
}
]
}
